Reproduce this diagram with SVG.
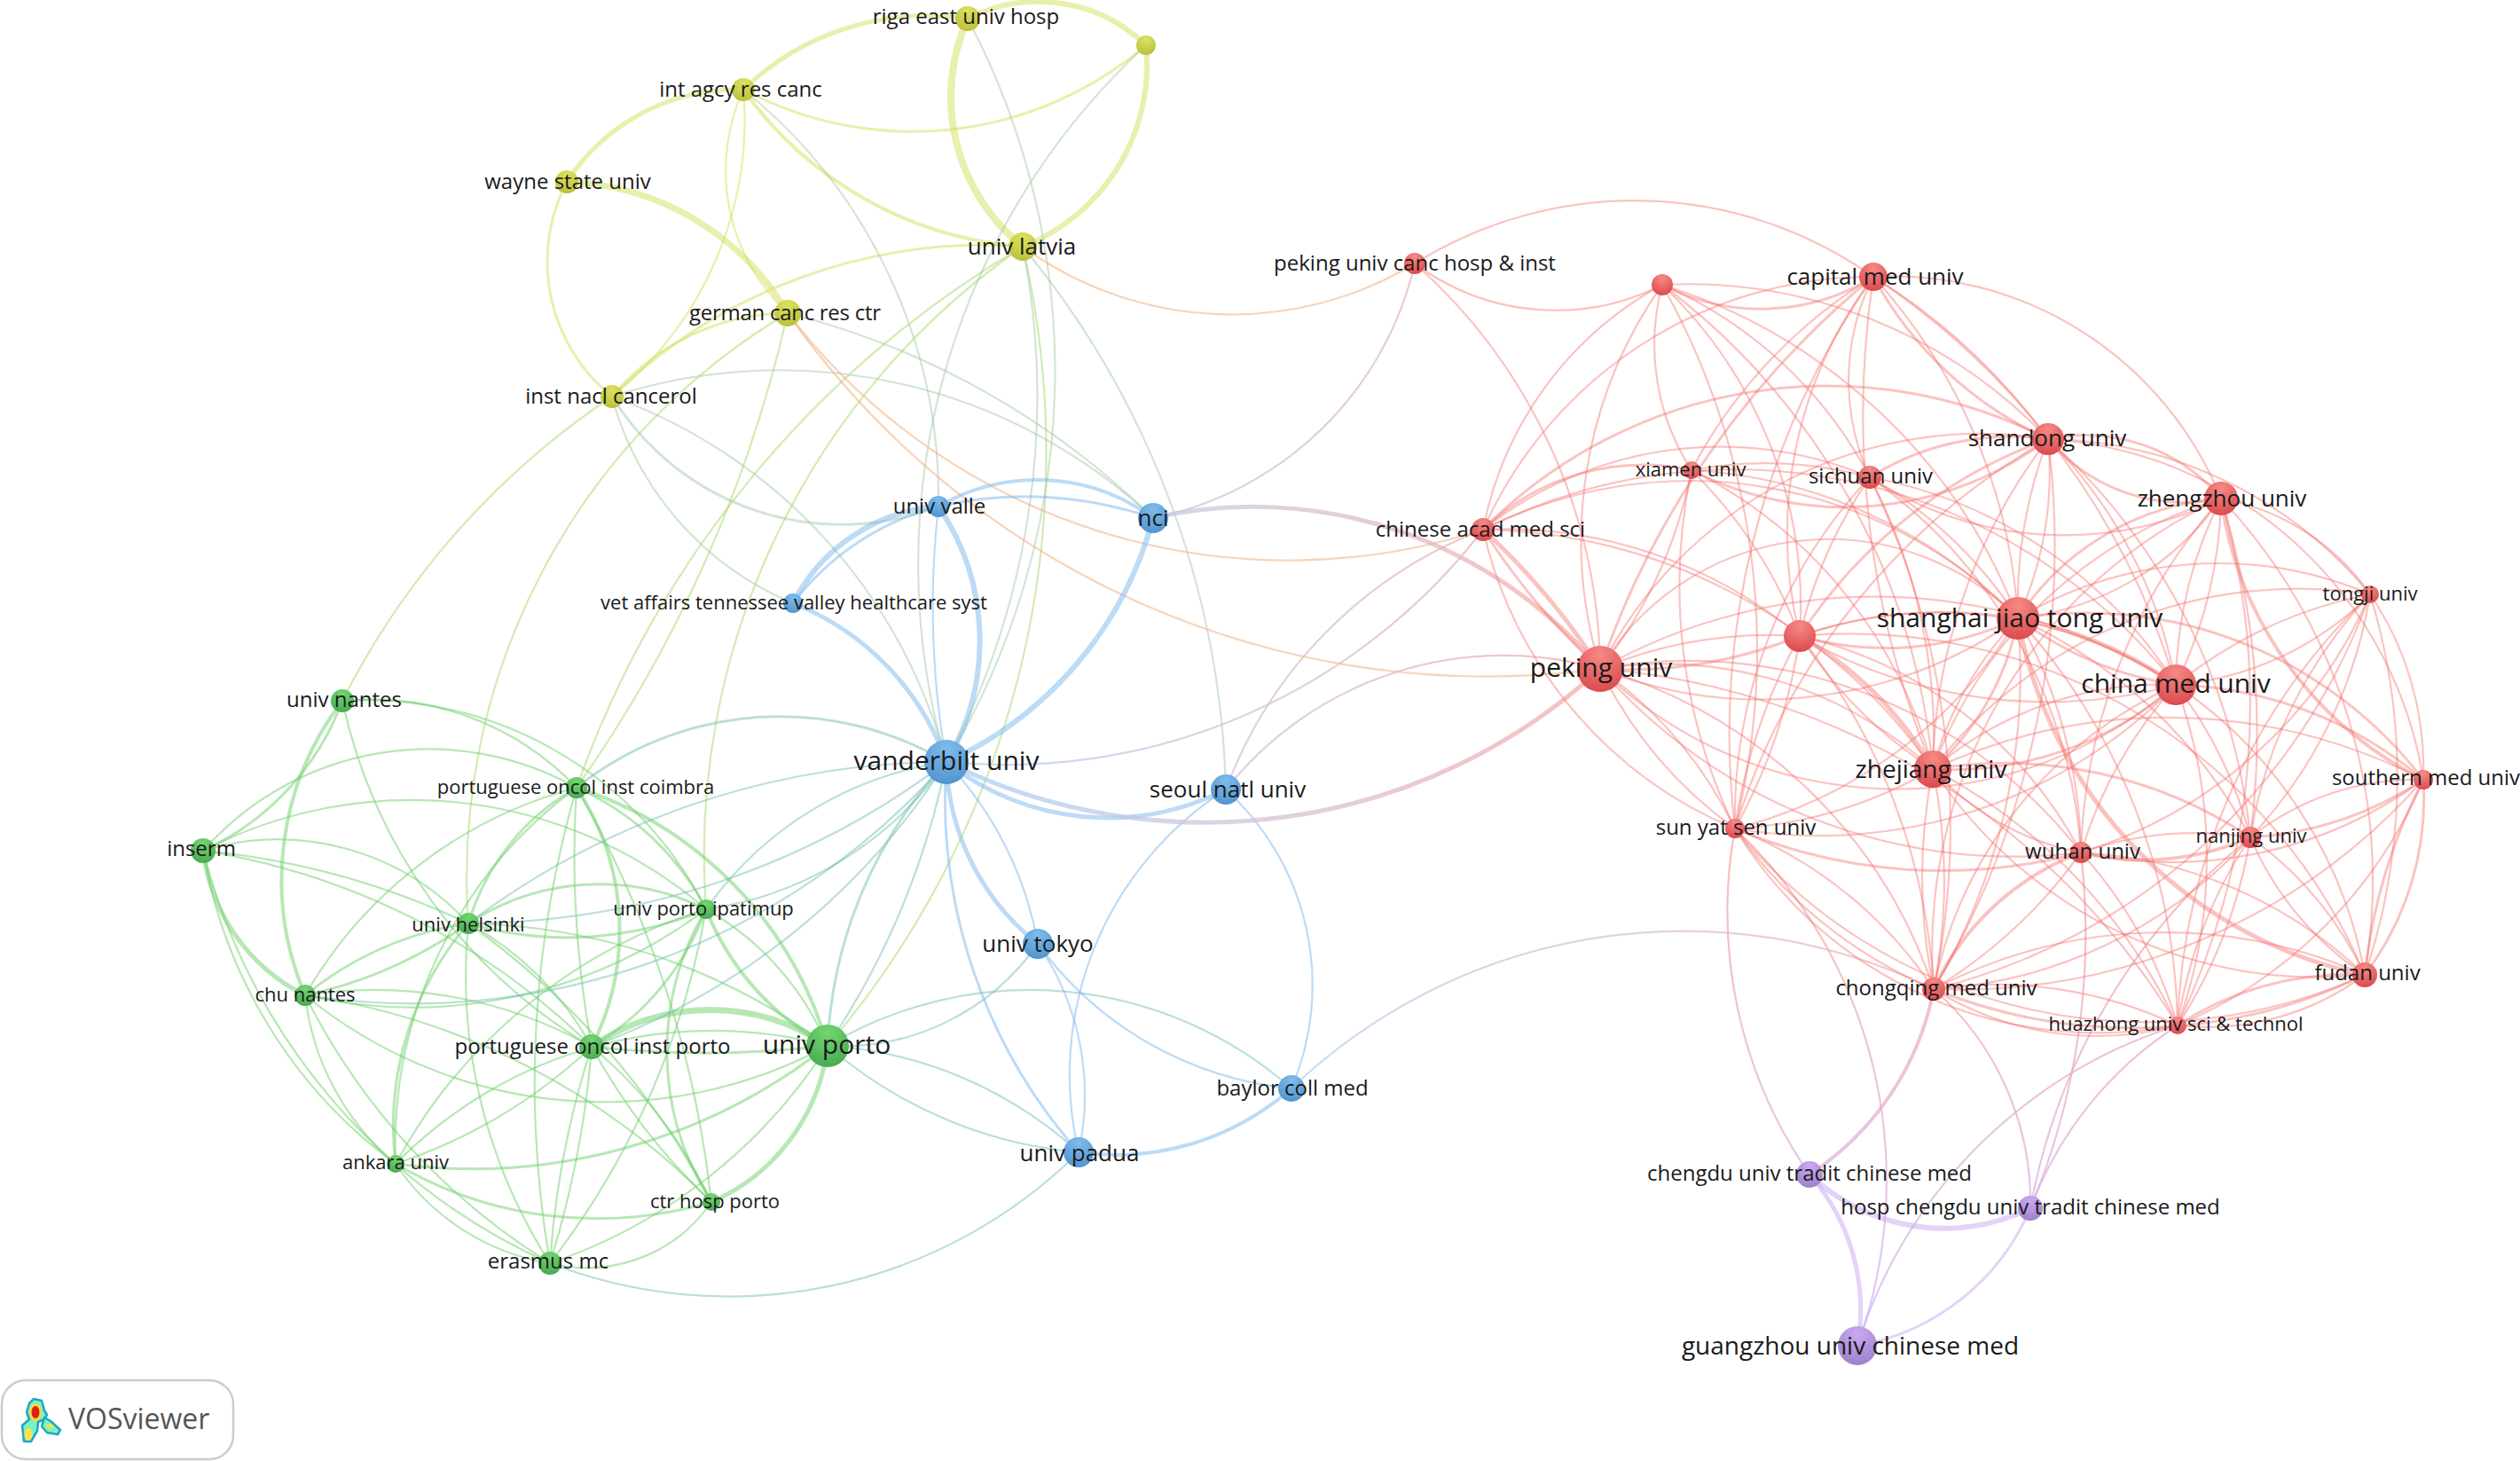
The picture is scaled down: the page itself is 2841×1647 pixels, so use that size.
<svg xmlns="http://www.w3.org/2000/svg" width="2841" height="1647" viewBox="0 0 2841 1647">
<style>
text{font-family:"Open Sans","Noto Sans","Liberation Sans",sans-serif;text-anchor:middle;fill:#1a1a1a}
#connectors path{fill:none;stroke-width:2.2}
#connectors .w3{stroke-width:3}#connectors .w4{stroke-width:4}#connectors .w5{stroke-width:5}#connectors .w6{stroke-width:6}#connectors .w7{stroke-width:7}#connectors .w8{stroke-width:8}
.r path{stroke:#f4706c;stroke-opacity:.42}.g path{stroke:#6fd06b;stroke-opacity:.5}.b path{stroke:#7ab8ee;stroke-opacity:.5}
.y path{stroke:#d3df5a;stroke-opacity:.5}.p path{stroke:#c39cf0;stroke-opacity:.45}.yg path{stroke:#a8d868;stroke-opacity:.5}
.yb path{stroke:#a0c8a8;stroke-opacity:.48}.yr path{stroke:#f0b080;stroke-opacity:.55}.gb path{stroke:#70bcb0;stroke-opacity:.48}
#cross path{stroke-opacity:.72}
.nr{fill:url(#fr)}.ng{fill:url(#fg)}.nb{fill:url(#fb)}.ny{fill:url(#fy)}.np{fill:url(#fp)}
.s22{font-size:22px}.s24{font-size:24px}.s26{font-size:26px}.s28{font-size:28px}.s30{font-size:30px}
</style>
<defs>
<radialGradient id="fr" cx=".5" cy=".2" r=".85"><stop offset="0" stop-color="#f78a86"/><stop offset="1" stop-color="#da464b"/></radialGradient>
<radialGradient id="fg" cx=".5" cy=".2" r=".85"><stop offset="0" stop-color="#74d670"/><stop offset="1" stop-color="#45a84f"/></radialGradient>
<radialGradient id="fb" cx=".5" cy=".2" r=".85"><stop offset="0" stop-color="#7ebcee"/><stop offset="1" stop-color="#4f92cc"/></radialGradient>
<radialGradient id="fy" cx=".5" cy=".2" r=".85"><stop offset="0" stop-color="#dde15f"/><stop offset="1" stop-color="#b8be3a"/></radialGradient>
<radialGradient id="fp" cx=".5" cy=".2" r=".85"><stop offset="0" stop-color="#cca9f2"/><stop offset="1" stop-color="#9a7fc8"/></radialGradient>
<linearGradient id="br" gradientUnits="userSpaceOnUse" x1="1067" y1="0" x2="1804" y2="0"><stop offset="0" stop-color="#a5cef2"/><stop offset=".45" stop-color="#cfc3d6"/><stop offset="1" stop-color="#f6a8a6"/></linearGradient>
<linearGradient id="br2" gradientUnits="userSpaceOnUse" x1="1456" y1="0" x2="2180" y2="0"><stop offset="0" stop-color="#b5d2ee"/><stop offset="1" stop-color="#f4b4b0"/></linearGradient>
<linearGradient id="rp" gradientUnits="userSpaceOnUse" x1="0" y1="1000" x2="0" y2="1450"><stop offset="0" stop-color="#f6a6a4"/><stop offset="1" stop-color="#d3b5f2"/></linearGradient>
</defs>
<rect width="2841" height="1647" fill="#fff"/>
<g id="connectors">
<g class="y">
<path class="w5" d="M838 101A300 300 0 0 1 1091 21"/>
<path class="w6" d="M1091 21A175 175 0 0 1 1292 51"/>
<path class="w8" d="M1153 278A216 216 0 0 1 1091 21"/>
<path class="w6" d="M1292 51A220 220 0 0 1 1153 278"/>
<path class="w3" d="M1292 51A406 406 0 0 1 838 101"/>
<path class="w4" d="M1153 278A425 425 0 0 1 838 101"/>
<path class="w5" d="M639 205A230 230 0 0 1 838 101"/>
<path class="w7" d="M639 205A300 300 0 0 1 888 353"/>
<path class="w3" d="M690 447A195 195 0 0 1 639 205"/>
<path d="M888 353A220 220 0 0 1 838 101"/>
<path d="M838 101A400 400 0 0 1 690 447"/>
<path class="w3" d="M690 447A260 260 0 0 1 888 353"/>
<path class="w3" d="M690 447A600 600 0 0 1 1153 278"/>
</g>
<g class="yg">
<path d="M1153 278A1030 1030 0 0 1 933 1179"/>
<path d="M386 790A900 900 0 0 1 690 447"/>
<path d="M528 1041A740 740 0 0 1 888 353"/>
<path d="M650 888A1150 1150 0 0 1 1153 278"/>
<path d="M888 353A1500 1500 0 0 1 650 888"/>
<path d="M796 1025A834 834 0 0 1 1153 278"/>
</g>
<g class="yb">
<path d="M1091 21A853 853 0 0 1 1067 859"/>
<path d="M1153 278A880 880 0 0 1 1067 859"/>
<path d="M1067 859A795 795 0 0 1 1292 51"/>
<path d="M838 101A590 590 0 0 1 1058 571"/>
<path d="M690 447A615 615 0 0 1 1300 584"/>
<path d="M888 353A900 900 0 0 1 1300 584"/>
<path d="M894 680A350 350 0 0 1 690 447"/>
<path class="w3" d="M1058 571A304 304 0 0 1 690 447"/>
<path d="M690 447A600 600 0 0 1 1067 859"/>
<path d="M1153 278A1000 1000 0 0 1 1382 890"/>
</g>
<g class="yr">
<path d="M1672 597A711 711 0 0 1 888 353"/>
<path d="M1804 754A963 963 0 0 1 888 353"/>
<path d="M1595 297A400 400 0 0 1 1153 278"/>
</g>
<g class="g">
<path class="w3" d="M386 790A300 300 0 0 1 229 959"/>
<path class="w4" d="M344 1122A332 332 0 0 1 386 790"/>
<path d="M386 790A320 320 0 0 1 650 888"/>
<path d="M386 790A430 430 0 0 1 796 1025"/>
<path d="M667 1180A600 600 0 0 1 386 790"/>
<path d="M229 959A340 340 0 0 1 650 888"/>
<path d="M229 959A510 510 0 0 1 796 1025"/>
<path d="M229 959A290 290 0 0 1 528 1041"/>
<path d="M229 959A900 900 0 0 1 528 1041"/>
<path class="w5" d="M344 1122A210 210 0 0 1 229 959"/>
<path d="M229 959A800 800 0 0 1 667 1180"/>
<path d="M446 1312A550 550 0 0 1 229 959"/>
<path d="M620 1424A700 700 0 0 1 229 959"/>
<path class="w3" d="M650 888A300 300 0 0 1 796 1025"/>
<path class="w3" d="M528 1041A260 260 0 0 1 650 888"/>
<path class="w4" d="M650 888A290 290 0 0 1 667 1180"/>
<path d="M667 1180A1200 1200 0 0 1 650 888"/>
<path class="w4" d="M650 888A430 430 0 0 1 933 1179"/>
<path d="M446 1312A500 500 0 0 1 650 888"/>
<path d="M620 1424A1200 1200 0 0 1 650 888"/>
<path d="M650 888A1200 1200 0 0 1 802 1355"/>
<path d="M344 1122A500 500 0 0 1 650 888"/>
<path class="w3" d="M528 1041A270 270 0 0 1 796 1025"/>
<path class="w3" d="M796 1025A400 400 0 0 1 528 1041"/>
<path d="M528 1041A350 350 0 0 1 667 1180"/>
<path d="M528 1041A700 700 0 0 1 933 1179"/>
<path class="w3" d="M446 1312A350 350 0 0 1 528 1041"/>
<path d="M620 1424A600 600 0 0 1 528 1041"/>
<path d="M528 1041A900 900 0 0 1 802 1355"/>
<path class="w3" d="M344 1122A380 380 0 0 1 528 1041"/>
<path class="w3" d="M528 1041A500 500 0 0 1 344 1122"/>
<path class="w3" d="M796 1025A300 300 0 0 1 667 1180"/>
<path d="M796 1025A320 320 0 0 1 933 1179"/>
<path class="w4" d="M933 1179A300 300 0 0 1 796 1025"/>
<path class="w3" d="M802 1355A313 313 0 0 1 796 1025"/>
<path d="M796 1025A900 900 0 0 1 620 1424"/>
<path d="M446 1312A600 600 0 0 1 796 1025"/>
<path d="M796 1025A550 550 0 0 1 344 1122"/>
<path d="M344 1122A500 500 0 0 1 667 1180"/>
<path d="M933 1179A532 532 0 0 1 344 1122"/>
<path d="M446 1312A290 290 0 0 1 344 1122"/>
<path d="M620 1424A750 750 0 0 1 344 1122"/>
<path d="M344 1122A800 800 0 0 1 802 1355"/>
<path class="w7" d="M667 1180A236 236 0 0 1 933 1179"/>
<path class="w3" d="M933 1179A1200 1200 0 0 1 667 1180"/>
<path d="M667 1180A500 500 0 0 1 802 1355"/>
<path d="M802 1355A700 700 0 0 1 667 1180"/>
<path d="M667 1180A1100 1100 0 0 1 620 1424"/>
<path d="M620 1424A1000 1000 0 0 1 667 1180"/>
<path d="M667 1180A600 600 0 0 1 446 1312"/>
<path d="M446 1312A500 500 0 0 1 933 1179"/>
<path class="w3" d="M933 1179A650 650 0 0 1 446 1312"/>
<path class="w5" d="M933 1179A220 220 0 0 1 802 1355"/>
<path d="M933 1179A600 600 0 0 1 620 1424"/>
<path d="M620 1424A260 260 0 0 1 446 1312"/>
<path class="w3" d="M802 1355A450 450 0 0 1 446 1312"/>
<path d="M802 1355A170 170 0 0 1 620 1424"/>
</g>
<g class="gb">
<path class="w3" d="M650 888A368 368 0 0 1 1067 859"/>
<path d="M796 1025A400 400 0 0 1 1067 859"/>
<path d="M1067 859A400 400 0 0 1 796 1025"/>
<path d="M528 1041A900 900 0 0 1 1067 859"/>
<path d="M1067 859A900 900 0 0 1 528 1041"/>
<path d="M1067 859A800 800 0 0 1 667 1180"/>
<path d="M1067 859A800 800 0 0 1 344 1122"/>
<path class="w3" d="M933 1179A500 500 0 0 1 1067 859"/>
<path d="M1067 859A900 900 0 0 1 933 1179"/>
<path d="M1216 1299A500 500 0 0 1 933 1179"/>
<path d="M933 1179A460 460 0 0 1 1216 1299"/>
<path d="M1170 1064A270 270 0 0 1 933 1179"/>
<path d="M933 1179A446 446 0 0 1 1456 1227"/>
<path d="M1216 1299A560 560 0 0 1 620 1424"/>
</g>
<g class="b">
<path class="w6" d="M1058 571A268 268 0 0 1 1067 859"/>
<path d="M1067 859A1000 1000 0 0 1 1058 571"/>
<path class="w5" d="M894 680A300 300 0 0 1 1067 859"/>
<path class="w6" d="M894 680A200 200 0 0 1 1058 571"/>
<path class="w3" d="M894 680A300 300 0 0 1 1058 571"/>
<path class="w6" d="M1300 584A420 420 0 0 1 1067 859"/>
<path class="w4" d="M1058 571A221 221 0 0 1 1300 584"/>
<path class="w3" d="M1058 571A440 440 0 0 1 1300 584"/>
<path class="w5" d="M1170 1064A270 270 0 0 1 1067 859"/>
<path d="M1067 859A400 400 0 0 1 1170 1064"/>
<path class="w5" d="M1382 890A294 294 0 0 1 1067 859"/>
<path class="w3" d="M1216 1299A600 600 0 0 1 1067 859"/>
<path d="M1382 890A298 298 0 0 1 1456 1227"/>
<path d="M1216 1299A382 382 0 0 1 1382 890"/>
<path d="M1456 1227A400 400 0 0 1 1170 1064"/>
<path d="M1170 1064A300 300 0 0 1 1216 1299"/>
<path class="w4" d="M1456 1227A300 300 0 0 1 1216 1299"/>
</g>
<g id="cross">
<path class="w5" stroke="url(#br)" d="M1804 754A659 659 0 0 1 1067 859"/>
<path stroke="url(#br)" d="M1672 597A680 680 0 0 1 1067 859"/>
<path class="w5" stroke="url(#br)" d="M1300 584A510 510 0 0 1 1804 754"/>
<path stroke="url(#br)" d="M1595 297A380 380 0 0 1 1300 584"/>
<path stroke="url(#br)" d="M1382 890A500 500 0 0 1 1672 597"/>
<path stroke="url(#br)" d="M1382 890A400 400 0 0 1 1804 754"/>
<path stroke="url(#br2)" d="M1456 1227A640 640 0 0 1 2180 1115"/>
<path class="w4" stroke="url(#rp)" d="M2180 1115A320 320 0 0 1 2040 1324"/>
<path stroke="url(#rp)" d="M2040 1324A520 520 0 0 1 1956 934"/>
<path stroke="url(#rp)" d="M1956 934A545 545 0 0 1 2094 1517"/>
<path stroke="url(#rp)" d="M2180 1115A320 320 0 0 1 2289 1362"/>
<path stroke="url(#rp)" d="M2094 1517A550 550 0 0 1 2455 1156"/>
<path stroke="url(#rp)" d="M2289 1362A420 420 0 0 1 2455 1156"/>
<path stroke="url(#rp)" d="M2346 961A800 800 0 0 1 2289 1362"/>
<path stroke="url(#rp)" d="M2289 1362A700 700 0 0 1 2537 944"/>
</g>
<g class="p">
<path class="w6" d="M2289 1362A220 220 0 0 1 2040 1324"/>
<path class="w5" d="M2040 1324A230 230 0 0 1 2094 1517"/>
<path class="w3" d="M2289 1362A260 260 0 0 1 2094 1517"/>
</g>
<g class="r">
<path d="M1874 321A265 265 0 0 1 1595 297"/>
<path d="M1595 297A467 467 0 0 1 2112 312"/>
<path d="M1595 297A620 620 0 0 1 1804 754"/>
<path d="M1804 754A500 500 0 0 1 1874 321"/>
<path d="M1672 597A400 400 0 0 1 1874 321"/>
<path class="w3" d="M2112 312A240 240 0 0 1 1874 321"/>
<path d="M1874 321A560 560 0 0 1 2309 495"/>
<path d="M1907 530A260 260 0 0 1 1874 321"/>
<path d="M1874 321A480 480 0 0 1 2108 538"/>
<path d="M1874 321A630 630 0 0 1 2275 697"/>
<path d="M1874 321A500 500 0 0 1 2029 717"/>
<path d="M1874 321A770 770 0 0 1 2179 867"/>
<path d="M1874 321A840 840 0 0 1 1956 934"/>
<path d="M1672 597A480 480 0 0 1 2112 312"/>
<path class="w3" d="M1804 754A980 980 0 0 1 2112 312"/>
<path d="M1907 530A560 560 0 0 1 2112 312"/>
<path d="M2108 538A260 260 0 0 1 2112 312"/>
<path d="M2029 717A480 480 0 0 1 2112 312"/>
<path class="w3" d="M2309 495A420 420 0 0 1 2112 312"/>
<path d="M2112 312A700 700 0 0 1 2309 495"/>
<path d="M2112 312A400 400 0 0 1 2504 562"/>
<path d="M2112 312A630 630 0 0 1 2275 697"/>
<path d="M2112 312A840 840 0 0 1 2453 772"/>
<path d="M2179 867A1050 1050 0 0 1 2112 312"/>
<path d="M1956 934A900 900 0 0 1 2112 312"/>
<path class="w3" d="M1672 597A546 546 0 0 1 2309 495"/>
<path class="w3" d="M2309 495A380 380 0 0 1 1907 530"/>
<path class="w3" d="M2108 538A300 300 0 0 1 2309 495"/>
<path class="w3" d="M2309 495A200 200 0 0 1 2504 562"/>
<path class="w3" d="M2504 562A200 200 0 0 1 2309 495"/>
<path d="M2309 495A456 456 0 0 1 2732 879"/>
<path d="M2309 495A400 400 0 0 1 2275 697"/>
<path d="M2275 697A520 520 0 0 1 2309 495"/>
<path class="w3" d="M2029 717A560 560 0 0 1 2309 495"/>
<path d="M1804 754A480 480 0 0 1 2309 495"/>
<path d="M2179 867A630 630 0 0 1 2309 495"/>
<path d="M2309 495A520 520 0 0 1 2453 772"/>
<path d="M2309 495A700 700 0 0 1 2537 944"/>
<path d="M2309 495A480 480 0 0 1 2672 670"/>
<path d="M1956 934A770 770 0 0 1 2309 495"/>
<path d="M2309 495A980 980 0 0 1 2180 1115"/>
<path d="M2504 562A260 260 0 0 1 2672 670"/>
<path class="w4" d="M2732 879A420 420 0 0 1 2504 562"/>
<path d="M2453 772A480 480 0 0 1 2504 562"/>
<path d="M2504 562A500 500 0 0 1 2453 772"/>
<path class="w3" d="M2275 697A300 300 0 0 1 2504 562"/>
<path d="M2504 562A320 320 0 0 1 2275 697"/>
<path d="M2504 562A900 900 0 0 1 2537 944"/>
<path d="M2504 562A630 630 0 0 1 2666 1099"/>
<path d="M2179 867A500 500 0 0 1 2504 562"/>
<path d="M2346 961A630 630 0 0 1 2504 562"/>
<path d="M2504 562A840 840 0 0 1 2455 1156"/>
<path d="M2504 562A400 400 0 0 1 2108 538"/>
<path d="M2180 1115A560 560 0 0 1 2504 562"/>
<path d="M1907 530A520 520 0 0 1 2179 867"/>
<path d="M1907 530A450 450 0 0 1 2108 538"/>
<path class="w3" d="M1672 597A260 260 0 0 1 1907 530"/>
<path d="M1907 530A560 560 0 0 1 2275 697"/>
<path d="M1956 934A630 630 0 0 1 1907 530"/>
<path d="M1907 530A520 520 0 0 1 2029 717"/>
<path d="M1907 530A520 520 0 0 1 1804 754"/>
<path d="M1672 597A430 430 0 0 1 2108 538"/>
<path d="M1956 934A560 560 0 0 1 2108 538"/>
<path d="M2029 717A520 520 0 0 1 2108 538"/>
<path d="M2108 538A500 500 0 0 1 2275 697"/>
<path d="M2108 538A520 520 0 0 1 2453 772"/>
<path d="M2108 538A630 630 0 0 1 2179 867"/>
<path d="M2108 538A560 560 0 0 1 2346 961"/>
<path d="M2108 538A900 900 0 0 1 2180 1115"/>
<path class="w5" d="M1672 597A800 800 0 0 1 1804 754"/>
<path class="w3" d="M1804 754A800 800 0 0 1 1672 597"/>
<path d="M1672 597A520 520 0 0 1 2029 717"/>
<path d="M1672 597A520 520 0 0 1 2275 697"/>
<path d="M1672 597A630 630 0 0 1 2179 867"/>
<path d="M1672 597A630 630 0 0 1 2453 772"/>
<path d="M1956 934A480 480 0 0 1 1672 597"/>
<path d="M1804 754A500 500 0 0 1 2029 717"/>
<path class="w3" d="M2029 717A520 520 0 0 1 1804 754"/>
<path d="M1804 754A300 300 0 0 1 2275 697"/>
<path d="M2275 697A500 500 0 0 1 1804 754"/>
<path d="M1804 754A630 630 0 0 1 2453 772"/>
<path d="M2453 772A480 480 0 0 1 1804 754"/>
<path d="M1804 754A450 450 0 0 1 2179 867"/>
<path d="M1804 754A480 480 0 0 1 1956 934"/>
<path d="M1956 934A480 480 0 0 1 1804 754"/>
<path d="M1804 754A560 560 0 0 1 2346 961"/>
<path d="M1804 754A560 560 0 0 1 2180 1115"/>
<path d="M2346 961A620 620 0 0 1 1804 754"/>
<path d="M1804 754A840 840 0 0 1 2455 1156"/>
<path d="M2029 717A500 500 0 0 1 2275 697"/>
<path class="w3" d="M2275 697A350 350 0 0 1 2029 717"/>
<path class="w5" d="M2029 717A400 400 0 0 1 2179 867"/>
<path d="M2179 867A500 500 0 0 1 2029 717"/>
<path d="M2029 717A480 480 0 0 1 2453 772"/>
<path d="M2453 772A560 560 0 0 1 2029 717"/>
<path d="M2029 717A630 630 0 0 1 1956 934"/>
<path d="M1956 934A630 630 0 0 1 2029 717"/>
<path d="M2029 717A480 480 0 0 1 2346 961"/>
<path d="M2029 717A630 630 0 0 1 2666 1099"/>
<path d="M2029 717A700 700 0 0 1 2180 1115"/>
<path class="w5" d="M2275 697A480 480 0 0 1 2453 772"/>
<path class="w3" d="M2453 772A400 400 0 0 1 2275 697"/>
<path class="w3" d="M2275 697A300 300 0 0 1 2179 867"/>
<path d="M2179 867A400 400 0 0 1 2275 697"/>
<path class="w5" d="M2666 1099A500 500 0 0 1 2275 697"/>
<path d="M2275 697A560 560 0 0 1 2346 961"/>
<path d="M2275 697A560 560 0 0 1 2537 944"/>
<path d="M2275 697A440 440 0 0 1 2672 670"/>
<path class="w3" d="M2275 697A480 480 0 0 1 2732 879"/>
<path d="M2275 697A520 520 0 0 1 1956 934"/>
<path d="M2275 697A700 700 0 0 1 2180 1115"/>
<path d="M2275 697A700 700 0 0 1 2455 1156"/>
<path class="w3" d="M2453 772A380 380 0 0 1 2179 867"/>
<path d="M2179 867A400 400 0 0 1 2453 772"/>
<path d="M2453 772A500 500 0 0 1 2672 670"/>
<path d="M2672 670A350 350 0 0 1 2453 772"/>
<path class="w3" d="M2453 772A450 450 0 0 1 2732 879"/>
<path d="M2453 772A480 480 0 0 1 2537 944"/>
<path d="M2453 772A500 500 0 0 1 2666 1099"/>
<path d="M2346 961A500 500 0 0 1 2453 772"/>
<path d="M2453 772A560 560 0 0 1 2455 1156"/>
<path d="M2180 1115A480 480 0 0 1 2453 772"/>
<path d="M2453 772A560 560 0 0 1 1956 934"/>
<path d="M2179 867A500 500 0 0 1 1956 934"/>
<path d="M2346 961A300 300 0 0 1 2179 867"/>
<path class="w3" d="M2179 867A500 500 0 0 1 2537 944"/>
<path d="M2179 867A630 630 0 0 1 2732 879"/>
<path d="M2666 1099A520 520 0 0 1 2179 867"/>
<path d="M2179 867A630 630 0 0 1 2180 1115"/>
<path d="M2180 1115A630 630 0 0 1 2179 867"/>
<path d="M2179 867A630 630 0 0 1 2455 1156"/>
<path d="M2179 867A520 520 0 0 1 2672 670"/>
<path class="w3" d="M2732 879A330 330 0 0 1 2666 1099"/>
<path class="w3" d="M2666 1099A630 630 0 0 1 2732 879"/>
<path class="w3" d="M2732 879A400 400 0 0 1 2537 944"/>
<path d="M2537 944A300 300 0 0 1 2732 879"/>
<path d="M2672 670A350 350 0 0 1 2732 879"/>
<path d="M2732 879A480 480 0 0 1 2346 961"/>
<path d="M2732 879A520 520 0 0 1 2455 1156"/>
<path d="M2732 879A700 700 0 0 1 2180 1115"/>
<path d="M2537 944A520 520 0 0 1 2672 670"/>
<path d="M2672 670A520 520 0 0 1 2537 944"/>
<path d="M2672 670A700 700 0 0 1 2666 1099"/>
<path d="M2455 1156A700 700 0 0 1 2672 670"/>
<path d="M2672 670A520 520 0 0 1 2346 961"/>
<path d="M2672 670A700 700 0 0 1 2180 1115"/>
<path class="w4" d="M2537 944A300 300 0 0 1 2346 961"/>
<path d="M2346 961A400 400 0 0 1 2537 944"/>
<path d="M2537 944A400 400 0 0 1 2666 1099"/>
<path d="M2666 1099A350 350 0 0 1 2537 944"/>
<path d="M2455 1156A520 520 0 0 1 2537 944"/>
<path d="M2537 944A560 560 0 0 1 2455 1156"/>
<path d="M2537 944A520 520 0 0 1 2180 1115"/>
<path class="w4" d="M2180 1115A300 300 0 0 1 2346 961"/>
<path d="M2346 961A560 560 0 0 1 2180 1115"/>
<path d="M2346 961A500 500 0 0 1 2666 1099"/>
<path d="M2346 961A500 500 0 0 1 2455 1156"/>
<path class="w3" d="M2346 961A600 600 0 0 1 1956 934"/>
<path d="M2666 1099A300 300 0 0 1 2455 1156"/>
<path class="w3" d="M2455 1156A350 350 0 0 1 2666 1099"/>
<path class="w3" d="M2666 1099A600 600 0 0 1 2180 1115"/>
<path d="M2180 1115A560 560 0 0 1 2666 1099"/>
<path d="M2666 1099A600 600 0 0 1 1956 934"/>
<path d="M2180 1115A480 480 0 0 1 2455 1156"/>
<path d="M2455 1156A350 350 0 0 1 2180 1115"/>
<path d="M2455 1156A480 480 0 0 1 1956 934"/>
<path d="M2180 1115A520 520 0 0 1 1956 934"/>
<path d="M1956 934A480 480 0 0 1 2180 1115"/>
</g>
</g>
<g id="nodes">
<g id="n-riga"><circle class="ny" cx="1091" cy="21" r="14"/><text class="s24" x="1089" y="19" dy=".35em">riga east univ hosp</text></g>
<g id="n-yellow-unlabelled"><circle class="ny" cx="1292" cy="51" r="11"/></g>
<g id="n-iarc"><circle class="ny" cx="838" cy="101" r="13"/><text class="s24" x="835" y="101" dy=".35em">int agcy res canc</text></g>
<g id="n-wayne"><circle class="ny" cx="639" cy="205" r="13"/><text class="s24" x="640" y="205" dy=".35em">wayne state univ</text></g>
<g id="n-latvia"><circle class="ny" cx="1153" cy="278" r="16"/><text class="s26" x="1152" y="278" dy=".35em">univ latvia</text></g>
<g id="n-german"><circle class="ny" cx="888" cy="353" r="15"/><text class="s24" x="885" y="353" dy=".35em" textLength="216">german canc res ctr</text></g>
<g id="n-nacl"><circle class="ny" cx="690" cy="447" r="13"/><text class="s24" x="689" y="447" dy=".35em">inst nacl cancerol</text></g>
<g id="n-valle"><circle class="nb" cx="1058" cy="571" r="12"/><text class="s24" x="1059" y="571" dy=".35em">univ valle</text></g>
<g id="n-nci"><circle class="nb" cx="1300" cy="584" r="17"/><text class="s26" x="1300" y="584" dy=".35em">nci</text></g>
<g id="n-vet"><circle class="nb" cx="894" cy="680" r="11"/><text class="s22" x="895" y="679" dy=".35em">vet affairs tennessee valley healthcare syst</text></g>
<g id="n-vanderbilt"><circle class="nb" cx="1067" cy="859" r="25"/><text class="s30" x="1067" y="857" dy=".35em">vanderbilt univ</text></g>
<g id="n-seoul"><circle class="nb" cx="1382" cy="890" r="17"/><text class="s26" x="1384" y="890" dy=".35em">seoul natl univ</text></g>
<g id="n-tokyo"><circle class="nb" cx="1170" cy="1064" r="17"/><text class="s26" x="1170" y="1064" dy=".35em">univ tokyo</text></g>
<g id="n-baylor"><circle class="nb" cx="1456" cy="1227" r="15"/><text class="s24" x="1457" y="1227" dy=".35em">baylor coll med</text></g>
<g id="n-padua"><circle class="nb" cx="1216" cy="1299" r="17"/><text class="s26" x="1217" y="1300" dy=".35em">univ padua</text></g>
<g id="n-nantes"><circle class="ng" cx="386" cy="790" r="13"/><text class="s24" x="388" y="789" dy=".35em">univ nantes</text></g>
<g id="n-inserm"><circle class="ng" cx="229" cy="959" r="14"/><text class="s24" x="227" y="957" dy=".35em">inserm</text></g>
<g id="n-coimbra"><circle class="ng" cx="650" cy="888" r="12"/><text class="s22" x="649" y="887" dy=".35em">portuguese oncol inst coimbra</text></g>
<g id="n-helsinki"><circle class="ng" cx="528" cy="1041" r="12"/><text class="s22" x="528" y="1042" dy=".35em">univ helsinki</text></g>
<g id="n-ipatimup"><circle class="ng" cx="796" cy="1025" r="11"/><text class="s22" x="793" y="1024" dy=".35em">univ porto ipatimup</text></g>
<g id="n-chu"><circle class="ng" cx="344" cy="1122" r="12"/><text class="s22" x="344" y="1121" dy=".35em">chu nantes</text></g>
<g id="n-oncol"><circle class="ng" cx="667" cy="1180" r="14"/><text class="s24" x="668" y="1180" dy=".35em">portuguese oncol inst porto</text></g>
<g id="n-porto"><circle class="ng" cx="933" cy="1179" r="24"/><text class="s30" x="932" y="1177" dy=".35em">univ porto</text></g>
<g id="n-ankara"><circle class="ng" cx="446" cy="1312" r="10"/><text class="s22" x="446" y="1310" dy=".35em">ankara univ</text></g>
<g id="n-ctrhosp"><circle class="ng" cx="802" cy="1355" r="10"/><text class="s22" x="806" y="1354" dy=".35em">ctr hosp porto</text></g>
<g id="n-erasmus"><circle class="ng" cx="620" cy="1424" r="13"/><text class="s24" x="618" y="1422" dy=".35em">erasmus mc</text></g>
<g id="n-pkcanc"><circle class="nr" cx="1595" cy="297" r="12"/><text class="s24" x="1595" y="297" dy=".35em">peking univ canc hosp &amp; inst</text></g>
<g id="n-red-unlabelled-1"><circle class="nr" cx="1874" cy="321" r="12"/></g>
<g id="n-capital"><circle class="nr" cx="2112" cy="312" r="16"/><text class="s26" x="2114" y="312" dy=".35em">capital med univ</text></g>
<g id="n-shandong"><circle class="nr" cx="2309" cy="495" r="18"/><text class="s26" x="2308" y="494" dy=".35em">shandong univ</text></g>
<g id="n-zhengzhou"><circle class="nr" cx="2504" cy="562" r="19"/><text class="s26" x="2505" y="562" dy=".35em">zhengzhou univ</text></g>
<g id="n-xiamen"><circle class="nr" cx="1907" cy="530" r="10"/><text class="s22" x="1906" y="529" dy=".35em">xiamen univ</text></g>
<g id="n-sichuan"><circle class="nr" cx="2108" cy="538" r="13"/><text class="s24" x="2109" y="537" dy=".35em">sichuan univ</text></g>
<g id="n-cams"><circle class="nr" cx="1672" cy="597" r="13"/><text class="s24" x="1669" y="597" dy=".35em">chinese acad med sci</text></g>
<g id="n-tongji"><circle class="nr" cx="2672" cy="670" r="10"/><text class="s22" x="2672" y="669" dy=".35em">tongji univ</text></g>
<g id="n-red-unlabelled-2"><circle class="nr" cx="2029" cy="717" r="18"/></g>
<g id="n-sjtu"><circle class="nr" cx="2275" cy="697" r="24"/><text class="s30" x="2277" y="696" dy=".35em">shanghai jiao tong univ</text></g>
<g id="n-peking"><circle class="nr" cx="1804" cy="754" r="26"/><text class="s30" x="1805" y="752" dy=".35em">peking univ</text></g>
<g id="n-cmu"><circle class="nr" cx="2453" cy="772" r="23"/><text class="s30" x="2453" y="770" dy=".35em">china med univ</text></g>
<g id="n-zhejiang"><circle class="nr" cx="2179" cy="867" r="21"/><text class="s28" x="2177" y="867" dy=".35em">zhejiang univ</text></g>
<g id="n-southern"><circle class="nr" cx="2732" cy="879" r="11"/><text class="s24" x="2735" y="877" dy=".35em">southern med univ</text></g>
<g id="n-sysu"><circle class="nr" cx="1956" cy="934" r="11"/><text class="s24" x="1957" y="933" dy=".35em">sun yat sen univ</text></g>
<g id="n-wuhan"><circle class="nr" cx="2346" cy="961" r="12"/><text class="s24" x="2348" y="960" dy=".35em">wuhan univ</text></g>
<g id="n-nanjing"><circle class="nr" cx="2537" cy="944" r="12"/><text class="s22" x="2538" y="942" dy=".35em">nanjing univ</text></g>
<g id="n-fudan"><circle class="nr" cx="2666" cy="1099" r="14"/><text class="s24" x="2669" y="1097" dy=".35em">fudan univ</text></g>
<g id="n-chongqing"><circle class="nr" cx="2180" cy="1115" r="13"/><text class="s24" x="2183" y="1114" dy=".35em">chongqing med univ</text></g>
<g id="n-huazhong"><circle class="nr" cx="2455" cy="1156" r="10"/><text class="s22" x="2453" y="1154" dy=".35em">huazhong univ sci &amp; technol</text></g>
<g id="n-chengdu"><circle class="np" cx="2040" cy="1324" r="15"/><text class="s24" x="2040" y="1323" dy=".35em">chengdu univ tradit chinese med</text></g>
<g id="n-hospchengdu"><circle class="np" cx="2289" cy="1362" r="14"/><text class="s24" x="2289" y="1361" dy=".35em">hosp chengdu univ tradit chinese med</text></g>
<g id="n-guangzhou"><circle class="np" cx="2094" cy="1517" r="22"/><text class="s28" x="2086" y="1517" dy=".35em">guangzhou univ chinese med</text></g>
</g>
<g id="logo">
<rect x="2" y="1556" width="261" height="89" rx="27" fill="#fff" stroke="#ccc" stroke-width="2.5"/>
<g stroke-linejoin="round">
<path d="M38 1577L47 1579L50 1590L53 1595L50 1600L43 1603L42 1613L35 1625L27 1625L25 1607L33 1600L30 1592L33 1582Z" fill="#7cf0c0" stroke="#1fa5c8" stroke-width="2.5"/>
<path d="M50 1598L57 1602L68 1612L65 1617L53 1615L47 1608Z" fill="#7cf0c0" stroke="#1fa5c8" stroke-width="2.5"/>
</g>
<ellipse cx="40" cy="1592" rx="7" ry="10" fill="#ffd83a"/>
<ellipse cx="40" cy="1592" rx="4.5" ry="7" fill="#d8240c"/>
<ellipse cx="32" cy="1617" rx="4.5" ry="7" fill="#ffe04a"/>
<ellipse cx="56" cy="1608" rx="5" ry="3" fill="#c8f060"/>
<text x="77" y="1611" font-size="32" style="text-anchor:start;fill:#555">VOSviewer</text>
</g>
</svg>
